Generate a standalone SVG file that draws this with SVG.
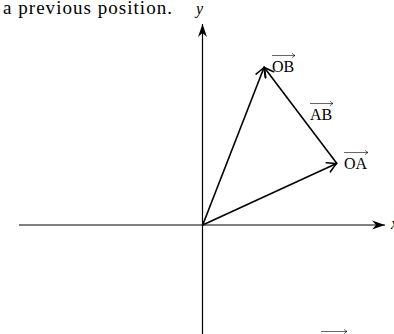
<svg xmlns="http://www.w3.org/2000/svg" width="394" height="334" viewBox="0 0 394 334">
<style>
.t{font-family:"Liberation Serif",serif;fill:#000}
.lbl{font-size:16px}
.it{font-style:italic;font-size:16px}
.vec{stroke:#000;stroke-width:1.6;fill:none;marker-end:url(#vh)}
.ov{stroke:#000;stroke-width:0.6;fill:none;marker-end:url(#oh)}
</style>
<defs>
<marker id="vh" markerUnits="userSpaceOnUse" viewBox="-12 -7 14 14" refX="0" refY="0" markerWidth="14" markerHeight="14" orient="auto" overflow="visible">
<path d="M-9,-5 Q-3,-1.5 0,0 Q-3,1.5 -9,5" fill="none" stroke="#000" stroke-width="1.6" stroke-linecap="round"/>
</marker>
<marker id="ah" markerUnits="userSpaceOnUse" viewBox="-14 -6 16 12" refX="0" refY="0" markerWidth="16" markerHeight="12" orient="auto" overflow="visible">
<path d="M0,0 L-13,-4.5 L-9,0 L-13,4.5 Z" fill="#000"/>
</marker>
<marker id="oh" markerUnits="userSpaceOnUse" viewBox="-5 -3 6 6" refX="0" refY="0" markerWidth="6" markerHeight="6" orient="auto" overflow="visible">
<path d="M-3,-2.2 Q-1,-0.5 0,0 Q-1,0.5 -3,2.2" fill="none" stroke="#000" stroke-width="0.6"/>
</marker>
</defs>
<text class="t" x="3" y="14" font-size="19" textLength="169" lengthAdjust="spacing">a previous position.</text>
<g id="axes">
<line x1="19" y1="225" x2="385" y2="225" stroke="#000" stroke-width="1.2" marker-end="url(#ah)"/>
<line x1="202.5" y1="334" x2="202.5" y2="24" stroke="#000" stroke-width="1.2" marker-end="url(#ah)"/>
<text class="t it" x="196" y="14">y</text>
<text class="t it" x="391" y="229">x</text>
</g>
<g id="connectors">
<line class="vec" x1="202.7" y1="225" x2="336.5" y2="163.5"/>
<line class="vec" x1="202.7" y1="225" x2="264" y2="67.5"/>
<line class="vec" x1="336.7" y1="163.3" x2="264.3" y2="67.5"/>
</g>
<g id="OB">
<line class="ov" x1="272" y1="55.5" x2="295" y2="55.5"/>
<text class="t lbl" x="272" y="72">OB</text>
</g>
<g id="AB">
<line class="ov" x1="310" y1="103.5" x2="333" y2="103.5"/>
<text class="t lbl" x="310" y="120">AB</text>
</g>
<g id="OA">
<line class="ov" x1="344" y1="152.5" x2="368" y2="152.5"/>
<text class="t lbl" x="344" y="169">OA</text>
</g>
<line class="ov" x1="321" y1="331.5" x2="347" y2="331.5"/>
</svg>
